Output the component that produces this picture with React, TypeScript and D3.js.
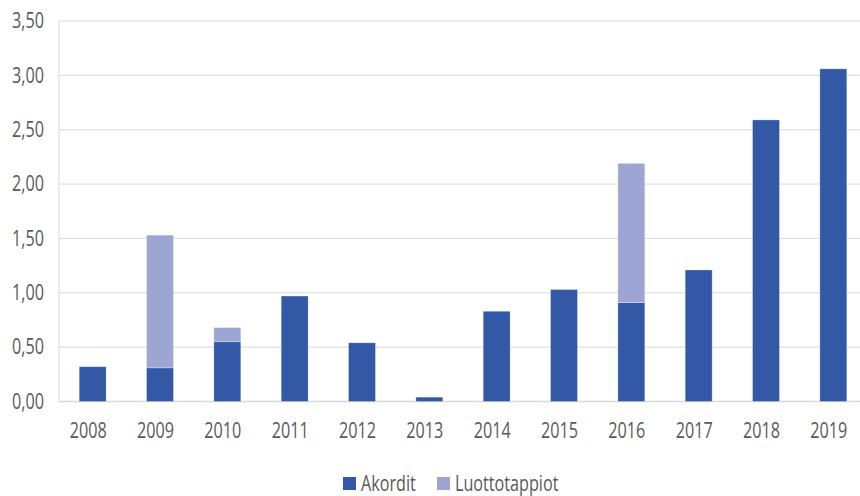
import React, { useEffect, useRef } from "react";
import * as d3 from "d3";

const years = ["2008", "2009", "2010", "2011", "2012", "2013", "2014", "2015", "2016", "2017", "2018", "2019"];
const akordit = [0.32, 0.31, 0.55, 0.97, 0.54, 0.04, 0.83, 1.03, 0.91, 1.21, 2.59, 3.06];
const luottotappiot = [0, 1.22, 0.13, 0, 0, 0, 0, 0, 1.28, 0, 0, 0];
const yTicks = [0, 0.5, 1, 1.5, 2, 2.5, 3, 3.5];
const seriesNames = ["Akordit", "Luottotappiot"];
const colors = ["#3358a5", "#9da6d3"];

const FONT = "'Open Sans', 'Liberation Sans', sans-serif";
const SX = 0.77; // squeeze text horizontally to look like a condensed face

const App = () => {
  const ref = useRef<SVGSVGElement>(null);

  useEffect(() => {
    const svg = d3.select(ref.current);
    svg.selectAll("*").remove();

    const left = 59, right = 867, top = 21, bottom = 401.5;

    const x = d3.scaleBand().domain(years).range([left, right]).paddingInner(0.6).paddingOuter(0.3);
    const y = d3.scaleLinear().domain([0, 3.5]).range([bottom, top]);
    const fmt = (v: number) => d3.format(".2f")(v).replace(".", ",");

    const label = (sel: any) =>
      sel
        .attr("font-family", FONT)
        .attr("font-size", 21)
        .attr("fill", "#595959");

    // gridlines
    svg.append("g")
      .selectAll("line")
      .data(yTicks)
      .enter()
      .append("line")
      .attr("x1", left)
      .attr("x2", right)
      .attr("y1", (d) => y(d))
      .attr("y2", (d) => y(d))
      .attr("stroke", "#d9d9d9")
      .attr("stroke-width", (d) => (d === 0 ? 1.5 : 1));

    svg.append("line")
      .attr("x1", left).attr("x2", left)
      .attr("y1", top).attr("y2", bottom)
      .attr("stroke", "#d9d9d9");

    // y labels
    svg.append("g")
      .selectAll("text")
      .data(yTicks)
      .enter()
      .append("text")
      .attr("transform", (d) => `translate(44,${y(d)}) scale(${SX},1)`)
      .attr("dy", "0.35em")
      .attr("text-anchor", "end")
      .call(label)
      .text((d) => fmt(d));

    // stacked bars
    const rows = years.map((yr, i) => ({ year: yr, Akordit: akordit[i], Luottotappiot: luottotappiot[i] }));
    const stacked = d3.stack<any>().keys(seriesNames)(rows);

    svg.append("g")
      .selectAll("g")
      .data(stacked)
      .enter()
      .append("g")
      .attr("fill", (_, i) => colors[i])
      .selectAll("rect")
      .data((s) => s.filter((d) => d[1] - d[0] > 0))
      .enter()
      .append("rect")
      .attr("x", (d: any) => x(d.data.year)!)
      .attr("width", x.bandwidth())
      .attr("y", (d) => y(d[1]))
      .attr("height", (d) => y(d[0]) - y(d[1]))
      .attr("stroke", "#ffffff")
      .attr("stroke-opacity", 0.35)
      .attr("stroke-width", 0.8);

    // x labels (sit a little left of the bar centres, as in the original)
    svg.append("g")
      .selectAll("text")
      .data(years)
      .enter()
      .append("text")
      .attr("transform", (d) => `translate(${x(d)! + x.bandwidth() / 2 - 4.5},438) scale(${SX},1)`)
      .attr("text-anchor", "middle")
      .call(label)
      .text((d) => d);

    // legend
    const legendX = [343, 437];
    const legend = svg.append("g")
      .selectAll("g")
      .data(seriesNames)
      .enter()
      .append("g")
      .attr("transform", (_, i) => `translate(${legendX[i]},477)`);
    legend.append("rect")
      .attr("width", 13)
      .attr("height", 13)
      .attr("fill", (_, i) => colors[i]);
    legend.append("text")
      .attr("transform", `translate(18,13.5) scale(${SX},1)`)
      .call(label)
      .text((d) => d);
  }, []);

  return (
    <svg
      ref={ref}
      width={860}
      height={496}
      style={{ position: "absolute", left: 0, top: 0, background: "#fff" }}
    />
  );
};

export default App;
